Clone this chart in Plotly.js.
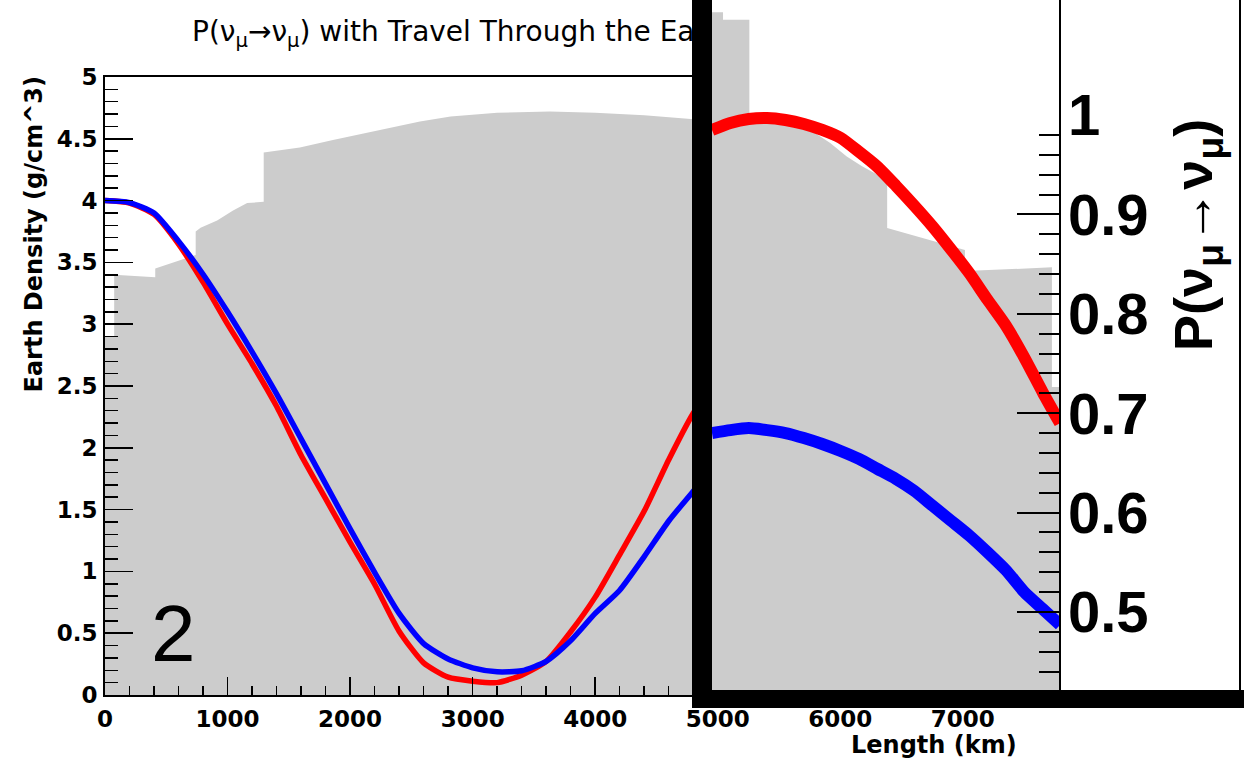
<!DOCTYPE html>
<html>
<head>
<meta charset="utf-8">
<script src="https://cdn.plot.ly/plotly-3.0.1.min.js"></script>
<style>
  html, body { margin: 0; padding: 0; background: #fff; overflow: hidden; }
  #main { position: absolute; left: 0; top: 0; width: 1244px; height: 763px; }
  #zoomPad { position: absolute; left: 692px; top: 0; width: 552px; height: 708px; overflow: hidden; background: #fff; }
  #zoom { position: absolute; left: 0; top: 0; width: 552px; height: 763px; }
</style>
</head>
<body>
<div id="main"></div>
<div id="zoomPad"><div id="zoom"></div></div>
<script>
// ---- Earth density along the path (g/cm^3) ----
const pathKm = [0, 75, 75, 410, 410, 690, 740, 740, 780, 915, 1045, 1160, 1295, 1295, 1590, 1860, 2140, 2570, 2820, 3200, 3630, 4000, 4400, 4780, 5200, 5700, 6105, 6105, 6300, 6500, 6660, 6660, 6990, 6990, 7325, 7325, 7450];
const pathDensity = [2.90, 2.90, 3.40, 3.38, 3.45, 3.54, 3.56, 3.75, 3.78, 3.84, 3.92, 3.98, 3.99, 4.39, 4.43, 4.49, 4.55, 4.64, 4.68, 4.71, 4.72, 4.71, 4.69, 4.66, 4.62, 4.55, 4.39, 3.99, 3.95, 3.86, 3.75, 3.55, 3.45, 3.38, 3.40, 2.90, 2.90];

// ---- survival probability along the path ----
const lengthKm = [0, 200, 400, 600, 800, 1000, 1200, 1400, 1600, 1800, 2000, 2200, 2400, 2600, 2800, 3000, 3200, 3400, 3600, 3800, 4000, 4200, 4400, 4600, 4800, 5000];
const probRed = [1.000, 0.995, 0.972, 0.912, 0.835, 0.750, 0.670, 0.584, 0.485, 0.397, 0.309, 0.224, 0.129, 0.065, 0.036, 0.028, 0.025, 0.040, 0.068, 0.128, 0.198, 0.284, 0.372, 0.476, 0.570, 0.640];
const probBlue = [1.000, 0.996, 0.975, 0.918, 0.851, 0.775, 0.694, 0.609, 0.518, 0.427, 0.336, 0.248, 0.165, 0.104, 0.073, 0.055, 0.047, 0.049, 0.068, 0.110, 0.165, 0.212, 0.280, 0.352, 0.412, 0.470];

// ---- zoomed pad ----
const zoomDensityKm = [4950, 5040, 5040, 5255, 5255, 5400, 5645, 5775, 5915, 6050, 6175, 6320, 6380, 6380, 6590, 6785, 7015, 7015, 7300, 7725, 7725, 7791];
const zoomDensity = [5.50, 5.50, 5.44, 5.44, 4.60, 4.61, 4.57, 4.53, 4.44, 4.33, 4.25, 4.17, 4.14, 3.75, 3.69, 3.64, 3.57, 3.40, 3.41, 3.43, 2.46, 2.46];
const zoomKm = [4950, 5100, 5250, 5400, 5550, 5700, 5850, 6000, 6150, 6300, 6450, 6600, 6750, 6900, 7050, 7200, 7350, 7500, 7650, 7791];
const zoomRed = [0.985, 0.992, 0.996, 0.997, 0.995, 0.991, 0.985, 0.977, 0.963, 0.948, 0.929, 0.909, 0.888, 0.865, 0.841, 0.814, 0.788, 0.756, 0.721, 0.690];
const zoomBlue = [0.680, 0.683, 0.685, 0.683, 0.680, 0.675, 0.669, 0.662, 0.654, 0.644, 0.634, 0.622, 0.607, 0.592, 0.577, 0.560, 0.542, 0.520, 0.503, 0.487];

const W = 1244, H = 763;
const px = x => x / W;
const py = y => 1 - y / H;

const GRAY = '#cccccc';
const tickFontMain = { family: 'DejaVu Sans', size: 23, weight: 'bold', color: '#000' };

// ---------------- main pad ----------------
const mainTraces = [
  { x: pathKm, y: pathDensity, type: 'scatter', mode: 'lines', fill: 'tozeroy',
    fillcolor: GRAY, line: { width: 0, color: GRAY }, xaxis: 'x', yaxis: 'y' },
  { x: lengthKm, y: probRed, type: 'scatter', mode: 'lines',
    line: { color: '#ff0000', width: 5.5, shape: 'spline', smoothing: 0.6 }, xaxis: 'x', yaxis: 'y2' },
  { x: lengthKm, y: probBlue, type: 'scatter', mode: 'lines',
    line: { color: '#0000ff', width: 5.5, shape: 'spline', smoothing: 0.6 }, xaxis: 'x', yaxis: 'y2' }
];

const mainLayout = {
  width: W, height: H,
  margin: { l: 0, r: 0, t: 0, b: 0 },
  paper_bgcolor: '#fff', plot_bgcolor: 'rgba(0,0,0,0)',
  showlegend: false,
  xaxis: {
    domain: [px(105), px(1018)], range: [0, 7450], anchor: 'y',
    showline: true, linecolor: '#000', linewidth: 2, mirror: true,
    ticks: 'inside', ticklen: 18, tickwidth: 1.5, tickcolor: '#000',
    tick0: 0, dtick: 1000,
    minor: { ticks: 'inside', dtick: 200, ticklen: 9, tickwidth: 1.5, tickcolor: '#000' },
    showgrid: false, zeroline: false, tickfont: tickFontMain, ticklabelstandoff: 2
  },
  yaxis: {
    domain: [py(695), py(77)], range: [0, 5], anchor: 'x',
    showline: true, linecolor: '#000', linewidth: 2, mirror: true,
    ticks: 'inside', ticklen: 28, tickwidth: 1.5, tickcolor: '#000',
    tick0: 0, dtick: 0.5,
    minor: { ticks: 'inside', dtick: 0.1, ticklen: 13, tickwidth: 1.5, tickcolor: '#000' },
    showgrid: false, zeroline: false, tickfont: tickFontMain, ticklabelstandoff: 1
  },
  yaxis2: { overlaying: 'y', range: [0, 1.25], visible: false, anchor: 'x' },
  annotations: [
    { text: 'P(ν<sub>μ</sub>→ν<sub>μ</sub>) with Travel Through the Earth',
      xref: 'paper', yref: 'paper', x: px(190), y: py(33), xanchor: 'left', yanchor: 'middle',
      showarrow: false, font: { family: 'DejaVu Sans', size: 28, color: '#000' } },
    { text: 'Earth Density (g/cm^3)', textangle: -90,
      xref: 'paper', yref: 'paper', x: px(33), y: py(74), xanchor: 'center', yanchor: 'top',
      showarrow: false, font: { family: 'DejaVu Sans', size: 24, weight: 'bold', color: '#000' } },
    { text: 'Length (km)',
      xref: 'paper', yref: 'paper', x: px(1019), y: py(745), xanchor: 'right', yanchor: 'middle',
      showarrow: false, font: { family: 'DejaVu Sans', size: 24, weight: 'bold', color: '#000' } },
    { text: '2',
      xref: 'paper', yref: 'paper', x: px(149), y: py(633), xanchor: 'left', yanchor: 'middle',
      showarrow: false, font: { family: 'Liberation Sans', size: 80, weight: 300, color: '#000' } }
  ]
};

Plotly.newPlot('main', mainTraces, mainLayout, { staticPlot: true });

// ---------------- zoomed pad ----------------
const ZW = 552, ZH = 763, ZX0 = 692;
const zx = x => (x - ZX0) / ZW;
const zy = y => 1 - y / ZH;

const zoomTraces = [
  { x: zoomDensityKm, y: zoomDensity, type: 'scatter', mode: 'lines', fill: 'tozeroy',
    fillcolor: GRAY, line: { width: 0, color: GRAY }, xaxis: 'x', yaxis: 'y' },
  { x: zoomKm, y: zoomRed, type: 'scatter', mode: 'lines',
    line: { color: '#ff0000', width: 12, shape: 'spline', smoothing: 0.6 }, xaxis: 'x', yaxis: 'y2' },
  { x: zoomKm, y: zoomBlue, type: 'scatter', mode: 'lines',
    line: { color: '#0000ff', width: 12, shape: 'spline', smoothing: 0.6 }, xaxis: 'x', yaxis: 'y2' }
];

const P_TOP = 1.1157, P_BOTTOM = 0.3481;

const zoomLayout = {
  width: ZW, height: ZH,
  margin: { l: 0, r: 0, t: 0, b: 0 },
  paper_bgcolor: '#fff', plot_bgcolor: 'rgba(0,0,0,0)',
  showlegend: false,
  xaxis: { domain: [zx(712), zx(1060)], range: [4950, 7791], visible: false, anchor: 'y' },
  yaxis: { domain: [0, 1], range: [-0.5925, 5.6], visible: false, anchor: 'x' },
  // probability scale used by the curves (full pad height)
  yaxis2: { overlaying: 'y', anchor: 'x', range: [P_BOTTOM, P_TOP], visible: false },
  // probability axis with ticks, drawn only up to 1
  yaxis3: {
    domain: [0, zy(115)], side: 'right', anchor: 'x', range: [P_BOTTOM, 1.0],
    showline: false,
    ticks: 'inside', ticklen: 43, tickwidth: 2, tickcolor: '#000',
    tick0: 0, dtick: 0.1,
    minor: { ticks: 'inside', dtick: 0.02, ticklen: 21, tickwidth: 2, tickcolor: '#000' },
    showgrid: false, zeroline: false, ticklabelstandoff: 7,
    tickfont: { family: 'Liberation Sans', size: 58, weight: 'bold', color: '#000' }
  },
  shapes: [
    // axis line of the probability scale, full pad height
    { type: 'line', xref: 'paper', yref: 'paper', x0: zx(1060), x1: zx(1060), y0: 0, y1: 1,
      line: { color: '#000', width: 2 }, layer: 'above' },
    // pad border
    { type: 'rect', xref: 'paper', yref: 'paper', x0: 0, x1: zx(712), y0: 0, y1: 1,
      fillcolor: '#000', line: { width: 0 }, layer: 'above' },
    { type: 'rect', xref: 'paper', yref: 'paper', x0: 0, x1: 1, y0: zy(708), y1: zy(690),
      fillcolor: '#000', line: { width: 0 }, layer: 'above' },
    { type: 'line', xref: 'paper', yref: 'paper', x0: zx(1240), x1: zx(1240), y0: 0, y1: 1,
      line: { color: '#000', width: 2 }, layer: 'above' }
  ],
  annotations: [
    { text: 'P(ν<sub>μ</sub>→ν<sub>μ</sub>)', textangle: -90,
      xref: 'paper', yref: 'paper', x: zx(1197), y: zy(235), xanchor: 'center', yanchor: 'middle',
      showarrow: false, font: { family: 'Liberation Sans', size: 54, weight: 'bold', color: '#000' } }
  ]
};

// an invisible trace puts the tick axis on the page
zoomTraces.push({ x: [zoomKm[0]], y: [zoomBlue[0]], type: 'scatter', mode: 'markers',
  marker: { opacity: 0 }, xaxis: 'x', yaxis: 'y3', hoverinfo: 'skip' });

Plotly.newPlot('zoom', zoomTraces, zoomLayout, { staticPlot: true });
</script>
</body>
</html>
